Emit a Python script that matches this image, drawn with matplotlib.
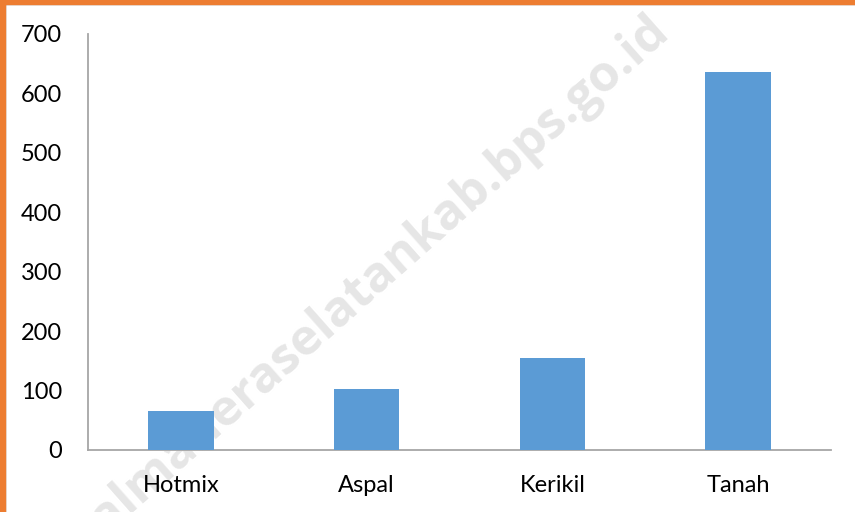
import matplotlib
matplotlib.use('Agg')
from matplotlib import pyplot as plt
from matplotlib.patches import Rectangle

# data
kategori = ['Hotmix', 'Aspal', 'Kerikil', 'Tanah']
nilai = [65, 102, 155, 636]
yticks = [0, 100, 200, 300, 400, 500, 600, 700]

plt.rcParams['font.family'] = ['Lato', 'DejaVu Sans']

fig = plt.figure(figsize=(8.55, 5.12), dpi=100)

# watermark, behind the chart
fig.text(0.43, 0.445, 'halmaheraselatankab.bps.go.id', rotation=41.5,
         ha='center', va='center', fontsize=36, fontweight='bold',
         color='#E6E6E6', zorder=-1, family='Open Sans')

ax = fig.add_axes([0.1029, 0.1211, 0.8690, 0.8125])
ax.patch.set_alpha(0)

ax.bar(range(len(kategori)), nilai, width=0.353, color='#5B9BD5', zorder=3)
ax.set_xlim(-0.5, 3.5)
ax.set_ylim(0, 700)
ax.set_yticks(yticks)
ax.set_xticks(range(len(kategori)))
ax.set_xticklabels(kategori)
ax.tick_params(axis='y', length=0, pad=18.5, labelsize=17)
ax.tick_params(axis='x', length=0, pad=18, labelsize=17)

for s in ['top', 'right']:
  ax.spines[s].set_visible(False)
for s in ['left', 'bottom']:
  ax.spines[s].set_color('#A6A6A6')
  ax.spines[s].set_linewidth(1.3)

# orange frame (top and left)
fig.patches.append(Rectangle((0, 0.993), 1, 0.007, transform=fig.transFigure,
                             color='#ED7D31', zorder=10))
fig.patches.append(Rectangle((0, 0), 0.0058, 1, transform=fig.transFigure,
                             color='#ED7D31', zorder=10))
fig.lines.append(plt.Line2D([0.0058, 1], [0.992, 0.992], transform=fig.transFigure,
                            color='#8C8C8C', linewidth=1))
fig.lines.append(plt.Line2D([0.0064, 0.0064], [0, 0.992], transform=fig.transFigure,
                            color='#8C8C8C', linewidth=1))

fig.savefig('out.png', dpi=100)
